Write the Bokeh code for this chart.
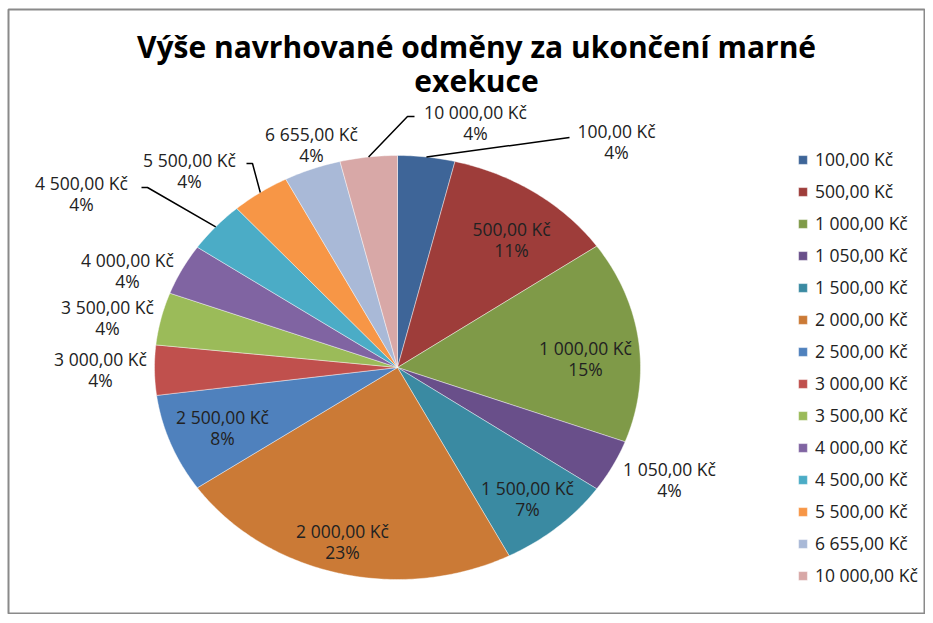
import numpy as np
from bokeh.plotting import figure
from bokeh.models import Range1d, Legend, LegendItem, ColumnDataSource, Label
from bokeh.core.properties import value
from bokeh.embed import file_html
from bokeh.resources import INLINE

# ---------------- data ----------------
categories = ["100,00 Kč", "500,00 Kč", "1 000,00 Kč", "1 050,00 Kč", "1 500,00 Kč",
              "2 000,00 Kč", "2 500,00 Kč", "3 000,00 Kč", "3 500,00 Kč", "4 000,00 Kč",
              "4 500,00 Kč", "5 500,00 Kč", "6 655,00 Kč", "10 000,00 Kč"]
shares = [3.8, 11.5, 15.4, 4.0, 7.7, 23.0, 7.5, 3.8, 4.0, 3.9, 3.9, 3.9, 3.8, 3.8]
pct_labels = ["4%", "11%", "15%", "4%", "7%", "23%", "8%", "4%", "4%", "4%", "4%", "4%", "4%", "4%"]
title_lines = ["Výše navrhované odměny za ukončení marné", "exekuce"]

# ---------------- styles / layout ----------------
colors = ["#3E6598", "#9E3D3A", "#7F9A48", "#694F8A", "#3A8AA2", "#CB7A36", "#4F81BD",
          "#C0504D", "#9BBB59", "#8064A2", "#4BACC6", "#F79646", "#A9B9D7", "#D8A8A7"]
BL, BT = 8, 9                 # canvas border before the frame (left, top)
W, H = 925, 614               # canvas size
FW, FH = W - BL, H - BT       # frame size
OX, OY = BL, H                # page pixel -> data: x = px - OX, y = OY - py
CX, CY = 397 - OX, OY - 367
RX, RY = 243, 212
FONT = "Open Sans"
LABEL_SIZE = "17.5px"
HALF_GAP = 10.5               # half distance between the two lines of a data label
# page-pixel centres of each two-line data label (layout only)
label_pos = [(616, 141), (511, 239), (585, 358), (669, 479), (527, 498), (342, 541),
             (222, 427), (100, 369), (107, 317), (127, 270), (81, 193), (189, 170),
             (311, 144), (475, 122)]
leader_elbows = {0: [(569, 137)], 13: [(407, 116), (414, 116)],
                 11: [(252, 163), (246, 163)], 10: [(147, 187), (141, 187)]}

p = figure(width=W, height=H, output_backend="svg", toolbar_location=None,
           x_range=Range1d(0, FW), y_range=Range1d(0, FH),
           min_border_left=BL, min_border_top=BT, min_border_right=0, min_border_bottom=0,
           background_fill_color="white", border_fill_color="white")
p.axis.visible = False
p.grid.visible = False
p.outline_line_color = "#8a8a8a"
p.outline_line_width = 2

# ---------------- slices ----------------
vals = np.array(shares, dtype=float)
ends = np.cumsum(vals) / vals.sum() * 2 * np.pi
starts = np.concatenate([[0.0], ends[:-1]])
mids = (starts + ends) / 2

xs, ys = [], []
for a0, a1 in zip(starts, ends):
    t = np.linspace(a0, a1, max(8, int((a1 - a0) * 80)))
    xs.append(np.concatenate([[CX], CX + RX * np.sin(t)]).tolist())
    ys.append(np.concatenate([[CY], CY + RY * np.cos(t)]).tolist())

src = ColumnDataSource(dict(xs=xs, ys=ys, color=colors, cat=categories))
r = p.patches("xs", "ys", source=src, fill_color="color", line_color="white",
              line_width=0.6, line_alpha=0.7)

# ---------------- data labels ----------------
lx = np.array([q[0] - OX for q in label_pos], dtype=float)
ly = np.array([OY - q[1] for q in label_pos], dtype=float)

common = dict(text_align="center", text_baseline="middle", text_font=value(FONT),
              text_font_size=LABEL_SIZE, text_color="#222222")
p.text(lx, ly + HALF_GAP, text=categories, **common)
p.text(lx, ly - HALF_GAP, text=pct_labels, **common)

# leader lines
for i, pts in leader_elbows.items():
    x0 = CX + RX * np.sin(mids[i])
    y0 = CY + RY * np.cos(mids[i])
    lxs = [x0] + [q[0] - OX for q in pts]
    lys = [y0] + [OY - q[1] for q in pts]
    p.line(lxs, lys, line_color="black", line_width=1.5)

# ---------------- title ----------------
for txt, py in zip(title_lines, [46, 80]):
    p.add_layout(Label(x=476 - OX, y=OY - py, text=txt, text_align="center",
                       text_baseline="middle", text_font=FONT, text_font_style="bold",
                       text_font_size="30px", text_color="black"))

# ---------------- legend ----------------
items = [LegendItem(label=c, renderers=[r], index=i) for i, c in enumerate(categories)]
legend = Legend(items=items, location=(797 - OX, 27), border_line_color=None,
                background_fill_alpha=0, label_text_font=FONT,
                label_text_font_size="17.5px", label_text_color="#222222",
                glyph_width=11, glyph_height=11, label_height=22, spacing=8,
                padding=0, margin=0, label_standoff=7)
p.add_layout(legend)

open("out.html", "w").write(file_html(p, INLINE))
